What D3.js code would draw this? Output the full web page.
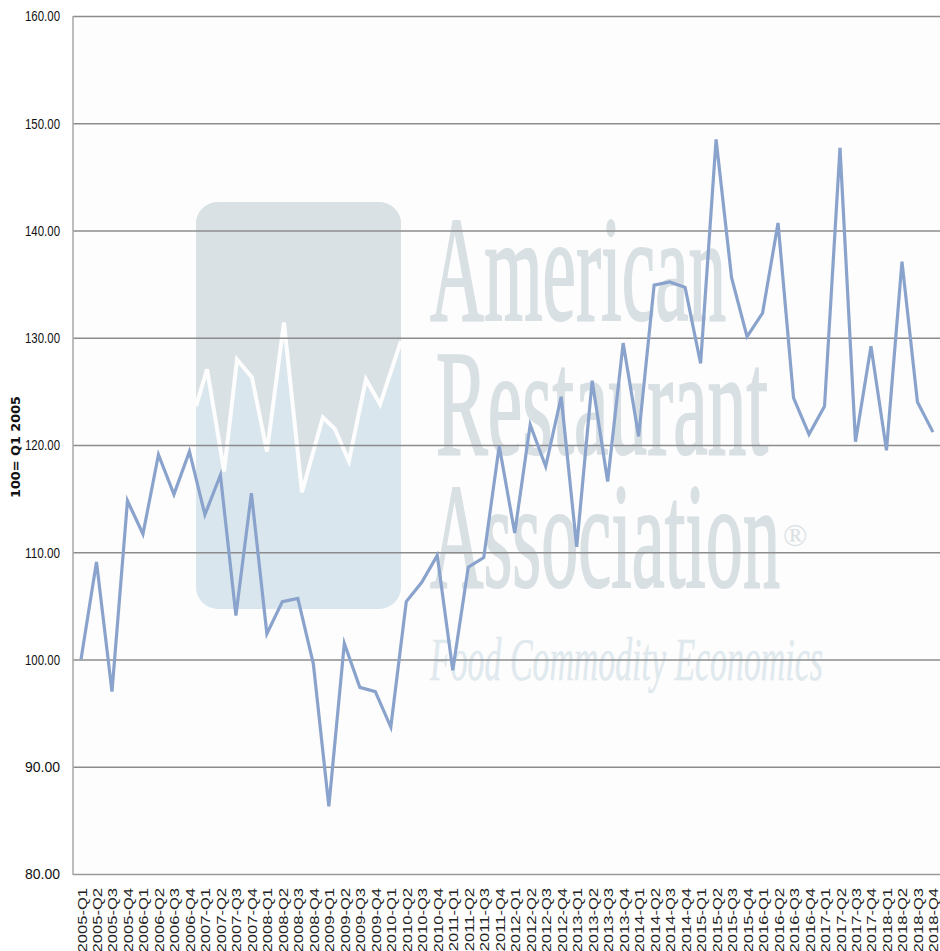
<!DOCTYPE html>
<html><head><meta charset="utf-8">
<script src="https://cdnjs.cloudflare.com/ajax/libs/d3/7.8.5/d3.min.js"></script>
<style>html,body{margin:0;padding:0;background:#fff;overflow:hidden}svg{display:block}</style>
</head><body><svg id="c" width="940" height="951"></svg>
<script>
const years = d3.range(2005, 2019);
const quarters = ["Q1","Q2","Q3","Q4"];
const categories = years.flatMap(y => quarters.map(q => `${y}-${q}`));
const values = [100,109.1,97,114.8,111.7,119.1,115.4,119.4,113.5,117.2,104.1,115.5,
102.4,105.4,105.7,99.6,86.3,101.5,97.4,97,93.7,105.4,107.2,109.7,99,108.6,109.5,119.9,
111.8,121.9,118,124.5,110.5,126,116.6,129.5,120.8,134.9,135.2,134.7,127.6,148.5,135.6,130.1,
132.3,140.7,124.4,121,123.6,147.7,120.3,129.2,119.5,137.1,124,121.2];
const yTicks = [80,90,100,110,120,130,140,150,160];
const yTitle = "100= Q1 2005";
const logoLineX = [0,5.4,13.7,20,27.3,34.6,42.9,51.7,61.9,67.8,74.6,82.9,89.8,100];
const logoLineY = [49.8,58.9,33.8,61.3,56.9,38.7,70.4,28.7,47.1,44.2,36.3,56.4,50.3,65.8];
const logoWords = ["American","Restaurant","Association"];
const logoTag = "Food Commodity Economics";

const W = 940, H = 951, L = 73, T = 16, B = 874;
const svg = d3.select("#c");
svg.append("rect").attr("width",W).attr("height",H).attr("fill","#ffffff");
svg.append("rect").attr("x",L).attr("y",T).attr("width",W-L).attr("height",B-T).attr("fill","#fdfdfd");

const x = d3.scalePoint().domain(categories).range([L+8, L+8+15.49*55]);
const y = d3.scaleLinear().domain([80,160]).range([B,T]);

// watermark logo
const logoBox = {x:196,y:202,w:205,h:407,r:22};
const lx = d3.scaleLinear().domain([0,100]).range([logoBox.x,logoBox.x+logoBox.w]);
const ly = d3.scaleLinear().domain([0,100]).range([logoBox.y+logoBox.h,logoBox.y]);
const wm = svg.append("g");
const defs = svg.append("defs");
defs.append("clipPath").attr("id","logoClip").append("rect")
  .attr("x",logoBox.x).attr("y",logoBox.y).attr("width",logoBox.w).attr("height",logoBox.h)
  .attr("rx",logoBox.r).attr("ry",logoBox.r);
const logo = wm.append("g").attr("clip-path","url(#logoClip)");
logo.append("rect").attr("x",logoBox.x).attr("y",logoBox.y).attr("width",logoBox.w).attr("height",logoBox.h).attr("fill","#d9e6ed");
const pts = logoLineX.map((v,i)=>[v,logoLineY[i]]);
logo.append("path")
  .attr("d", d3.area().x(d=>lx(d[0])).y0(ly(100)).y1(d=>ly(d[1]))(pts))
  .attr("fill","#dae1e5");
logo.append("path")
  .attr("d", d3.line().x(d=>lx(d[0])).y(d=>ly(d[1]))(pts))
  .attr("fill","none").attr("stroke","#fdfdfd").attr("stroke-width",4).attr("stroke-linejoin","miter");

// fit a watermark text to a target width by horizontal scaling
function fitted(txt, px, py, len, fs, style, color, sw){
  const t = wm.append("text").text(txt)
    .attr("font-family","'Liberation Serif',serif").attr("font-size",fs)
    .attr("font-style",style).attr("fill",color)
    .attr("stroke",color).attr("stroke-width",sw);
  const natural = t.node().getComputedTextLength();
  t.attr("transform",`translate(${px},${py}) scale(${len/natural},1)`);
}
const wordSpec = [
  {x:430,y:320,len:296},
  {x:436,y:454,len:332},
  {x:430,y:587,len:350}];
logoWords.forEach((w,i)=>fitted(w,wordSpec[i].x,wordSpec[i].y,wordSpec[i].len,150,"normal","#d9e0e4",2.2));
wm.append("text").text("®").attr("x",783).attr("y",546)
  .attr("font-family","'Liberation Serif',serif").attr("font-size",32)
  .attr("fill","#d9e0e4");
fitted(logoTag,430,680,393,62,"italic","#dfe9ee",0.4);

// y axis
const yAxis = d3.axisLeft(y).tickValues(yTicks).tickSize(0).tickPadding(13).tickFormat(d3.format(".2f"));
const gy = svg.append("g").attr("transform",`translate(${L},0)`).call(yAxis);
gy.select(".domain").remove();
gy.selectAll("text")
  .attr("font-family","'Liberation Sans',Arial,sans-serif").attr("font-size",15)
  .attr("textLength",35).attr("lengthAdjust","spacingAndGlyphs")
  .attr("fill","#111");

// grid
svg.append("g").selectAll("line").data(yTicks.filter(d=>d>80)).join("line")
  .attr("x1",L).attr("x2",W).attr("y1",d=>y(d)+0.5).attr("y2",d=>y(d)+0.5)
  .attr("stroke","#8c8c8c").attr("stroke-width",1.3);
svg.append("line").attr("x1",L).attr("x2",W).attr("y1",y(80)+0.5).attr("y2",y(80)+0.5)
  .attr("stroke","#9a9a9a").attr("stroke-width",1.6);
svg.append("line").attr("x1",L).attr("x2",L).attr("y1",T).attr("y2",B+1)
  .attr("stroke","#adadad").attr("stroke-width",1.6);

// x axis
const xAxis = d3.axisBottom(x).tickSize(0).tickPadding(0);
const gx = svg.append("g").attr("transform",`translate(0,${B})`).call(xAxis);
gx.select(".domain").remove();
gx.selectAll("text")
  .attr("font-family","'Liberation Sans',Arial,sans-serif").attr("font-size",12)
  .attr("fill","#222").attr("text-anchor","end").attr("dy",null)
  .attr("y",0)
  .attr("transform","translate(5,14) rotate(-90) scale(1.38,1)");

// title
svg.append("text").text(yTitle)
  .attr("transform","translate(20,498) rotate(-90)")
  .attr("font-family","'DejaVu Sans',Verdana,sans-serif").attr("font-weight","bold").attr("font-size",11.5)
  .attr("textLength",102).attr("lengthAdjust","spacingAndGlyphs")
  .attr("fill","#111");

// series
svg.append("path").datum(values)
  .attr("d", d3.line().x((d,i)=>x(categories[i])).y(d=>y(d)))
  .attr("fill","none").attr("stroke","#8aa3cc").attr("stroke-width",3.2).attr("stroke-linejoin","miter").attr("stroke-miterlimit",6);
</script></body></html>
